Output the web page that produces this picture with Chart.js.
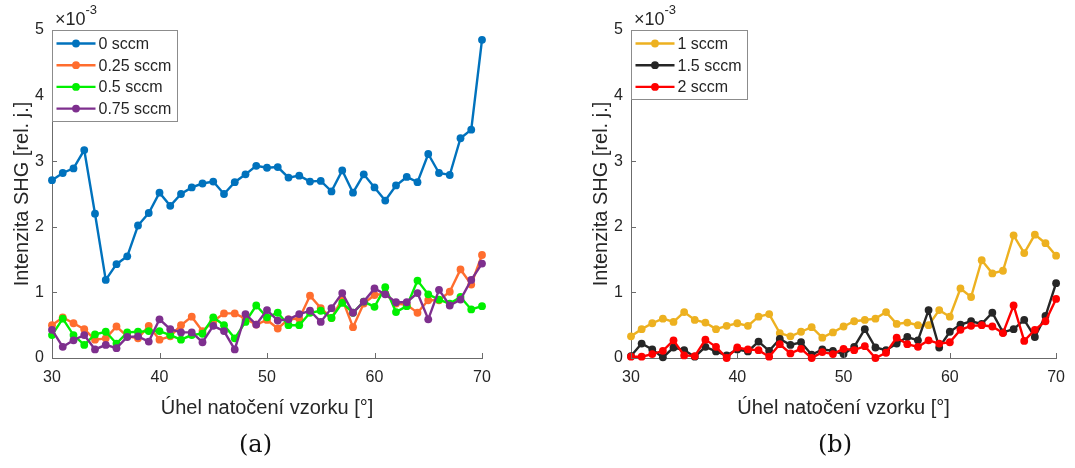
<!DOCTYPE html>
<html>
<head>
<meta charset="utf-8">
<script src="https://cdn.jsdelivr.net/npm/chart.js@4"></script>
<style>
  body { margin: 0; background: #fff; width: 1075px; height: 468px; position: relative; overflow: hidden; }
  canvas { position: absolute; top: 0; }
  #chartA { left: 0; }
  #chartB { left: 540px; }
  .cap { position: absolute; top: 430px; font: 24px "DejaVu Serif", "Liberation Serif", serif; color: #111; }
</style>
</head>
<body>
<canvas id="chartA" width="540" height="468"></canvas>
<canvas id="chartB" width="535" height="468"></canvas>
<div class="cap" style="left:239px">(a)</div>
<div class="cap" style="left:818px">(b)</div>
<script>
// uhel natoceni vzorku, stupne
const angles = [30,31,32,33,34,35,36,37,38,39,40,41,42,43,44,45,46,47,48,49,50,
                51,52,53,54,55,56,57,58,59,60,61,62,63,64,65,66,67,68,69,70]

// intenzita SHG, jednotky 1e-3
const sccm0 = [2.71,2.82,2.89,3.17,2.20,1.19,1.43,1.55,2.02,2.21,2.52,2.32,2.50,2.60,2.66,2.69,2.50,2.68,2.80,2.93,2.90,
               2.91,2.75,2.78,2.69,2.70,2.54,2.86,2.52,2.80,2.60,2.40,2.63,2.76,2.68,3.11,2.82,2.79,3.35,3.48,4.85]
const sccm025 = [0.50,0.62,0.53,0.44,0.28,0.30,0.48,0.33,0.30,0.49,0.28,0.33,0.50,0.63,0.41,0.56,0.68,0.68,0.60,0.51,0.58,
                 0.45,0.59,0.60,0.95,0.76,0.61,0.90,0.47,0.83,0.96,0.98,0.83,0.81,0.69,0.88,0.88,1.01,1.35,1.12,1.57]
const sccm05 = [0.35,0.60,0.35,0.20,0.36,0.40,0.22,0.39,0.40,0.41,0.41,0.35,0.28,0.35,0.37,0.62,0.50,0.30,0.55,0.80,0.62,
                0.69,0.50,0.50,0.69,0.72,0.61,0.84,0.69,0.86,0.78,1.08,0.70,0.79,1.18,0.97,0.89,0.83,0.93,0.74,0.79]
const sccm075 = [0.43,0.17,0.27,0.35,0.13,0.20,0.15,0.32,0.33,0.25,0.59,0.44,0.39,0.39,0.24,0.49,0.41,0.13,0.67,0.51,0.73,
                 0.57,0.59,0.67,0.72,0.55,0.76,0.99,0.69,0.86,1.06,0.97,0.85,0.85,0.99,0.59,1.04,0.80,0.89,1.19,1.44]
const sccm1 = [0.33,0.44,0.53,0.60,0.55,0.70,0.58,0.54,0.44,0.49,0.53,0.49,0.63,0.67,0.38,0.33,0.40,0.47,0.31,0.39,0.48,
               0.56,0.58,0.60,0.70,0.52,0.54,0.50,0.50,0.73,0.63,1.06,0.93,1.49,1.29,1.33,1.87,1.60,1.88,1.75,1.56]
const sccm15 = [0.03,0.22,0.13,0.01,0.16,0.12,0.02,0.17,0.10,0.04,0.13,0.10,0.25,0.11,0.29,0.20,0.24,0.05,0.13,0.11,0.06,
                0.17,0.44,0.16,0.12,0.22,0.32,0.27,0.73,0.16,0.40,0.51,0.56,0.52,0.69,0.39,0.44,0.58,0.32,0.64,1.14]
const sccm2 = [0.02,0.02,0.06,0.11,0.27,0.04,0.03,0.28,0.17,0.00,0.16,0.13,0.12,0.02,0.21,0.07,0.14,0.00,0.09,0.06,0.14,
               0.12,0.18,0.00,0.08,0.31,0.21,0.17,0.27,0.22,0.24,0.43,0.49,0.50,0.48,0.38,0.80,0.26,0.43,0.56,0.90]

const xTicks = [30, 40, 50, 60, 70]
const yTicks = [0, 1, 2, 3, 4, 5]

const FONT = '"Liberation Sans", Arial, sans-serif'
const TXT = '#262626'
const AXIS = '#6b6b6b'

function series(label, values, color, i){
    return {
        label: label,
        data: angles.map((a, k) => ({x: a, y: values[k]})),
        borderColor: color,
        backgroundColor: color,
        pointBackgroundColor: color,
        pointBorderWidth: 0,
        pointRadius: 3.9,
        borderWidth: 2.4,
        tension: 0,
        clip: false,
        order: 10 - i   //posledni serie navrch jako v matlabu
    }
}

//vnitrni ticky, exponent a legenda v ramecku
const matlabLook = {
    id: 'matlabLook',
    afterDraw(chart){
        const {ctx, chartArea: a, scales: {x, y}} = chart
        ctx.save()
        ctx.strokeStyle = AXIS
        ctx.lineWidth = 1
        ctx.beginPath()
        x.ticks.forEach(t => {
            const px = Math.round(x.getPixelForValue(t.value)) + 0.5
            ctx.moveTo(px, a.bottom); ctx.lineTo(px, a.bottom - 5)
        })
        y.ticks.forEach(t => {
            const py = Math.round(y.getPixelForValue(t.value)) + 0.5
            ctx.moveTo(a.left, py); ctx.lineTo(a.left + 5, py)
        })
        ctx.stroke()

        // x10^-3
        ctx.fillStyle = TXT
        ctx.textBaseline = 'alphabetic'
        ctx.font = '18px ' + FONT
        ctx.fillText('\u00d710', a.left + 3, a.top - 5)
        const w = ctx.measureText('\u00d710').width
        ctx.font = '13px ' + FONT
        ctx.fillText('-3', a.left + 3 + w, a.top - 16)

        // legenda
        const ds = chart.data.datasets
        ctx.font = '16px ' + FONT
        const textW = Math.max(...ds.map(d => ctx.measureText(d.label).width))
        const rowH = 21.7
        const bx = a.left + 0.5, by = a.top + 0.5
        const bw = Math.round(48 + textW + 4), bh = Math.round(rowH * ds.length + 4)
        ctx.fillStyle = '#fff'
        ctx.fillRect(bx, by, bw, bh)
        ctx.strokeStyle = '#8c8c8c'
        ctx.strokeRect(bx, by, bw, bh)
        ds.forEach((d, i) => {
            const cy = by + 13 + i * rowH
            ctx.strokeStyle = d.borderColor
            ctx.lineWidth = 2.4
            ctx.beginPath(); ctx.moveTo(bx + 4, cy); ctx.lineTo(bx + 43, cy); ctx.stroke()
            ctx.fillStyle = d.borderColor
            ctx.beginPath(); ctx.arc(bx + 23.5, cy, 3.9, 0, Math.PI * 2); ctx.fill()
            ctx.fillStyle = TXT
            ctx.textBaseline = 'middle'
            ctx.fillText(d.label, bx + 46, cy + 1)
        })
        ctx.restore()
    }
}

function makeChart(id, datasets, pad){
    return new Chart(document.getElementById(id).getContext('2d'), {
        type: 'line',
        data: {datasets: datasets},
        options: {
            responsive: false,
            animation: false,
            devicePixelRatio: 1,
            layout: {padding: pad},
            plugins: {legend: {display: false}, tooltip: {enabled: false}},
            scales: {
                x: {
                    type: 'linear', min: 30, max: 70,
                    afterBuildTicks: s => { s.ticks = xTicks.map(v => ({value: v})) },
                    afterFit: s => { s.height = 65 },
                    grid: {drawOnChartArea: false, drawTicks: false},
                    border: {color: AXIS, width: 1},
                    ticks: {color: TXT, font: {family: FONT, size: 16}, padding: 10, maxRotation: 0},
                    title: {display: true, text: 'Úhel natočení vzorku [°]', color: TXT,
                            font: {family: FONT, size: 20}, padding: {top: 2, bottom: 3}}
                },
                y: {
                    min: 0, max: 5,
                    afterBuildTicks: s => { s.ticks = yTicks.map(v => ({value: v})) },
                    afterFit: s => { s.width = 52 },
                    grid: {drawOnChartArea: false, drawTicks: false},
                    border: {color: AXIS, width: 1},
                    ticks: {color: TXT, font: {family: FONT, size: 16}, padding: 8},
                    title: {display: true, text: 'Intenzita SHG [rel. j.]', color: TXT,
                            font: {family: FONT, size: 20}, padding: {top: 10, bottom: 2}}
                }
            }
        },
        plugins: [matlabLook]
    })
}

makeChart('chartA', [
    series('0 sccm', sccm0, '#0072BD', 0),
    series('0.25 sccm', sccm025, '#FF6D2E', 1),
    series('0.5 sccm', sccm05, '#00F000', 2),
    series('0.75 sccm', sccm075, '#7E2F8E', 3)
], {left: 0, right: 58, top: 30, bottom: 45})

makeChart('chartB', [
    series('1 sccm', sccm1, '#EDB120', 0),
    series('1.5 sccm', sccm15, '#262626', 1),
    series('2 sccm', sccm2, '#FF0000', 2)
], {left: 39, right: 15, top: 30, bottom: 45})
</script>
</body>
</html>
